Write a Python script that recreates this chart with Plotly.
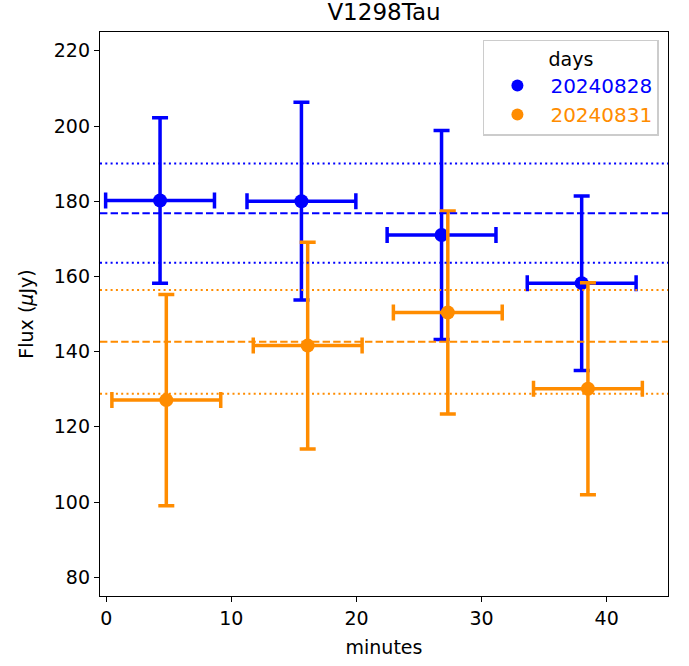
import plotly.graph_objects as go

# ---- data ----
days = ["20240828", "20240831"]
colors = ["#0000ff", "#ff8c00"]

minutes_0828 = [4.3, 15.6, 26.8, 38.0]
flux_0828 = [180.2, 180.0, 171.0, 158.2]
ferr_0828 = [22.0, 26.3, 27.8, 23.2]
merr_0828 = [4.35, 4.35, 4.35, 4.35]

minutes_0831 = [4.8, 16.1, 27.3, 38.5]
flux_0831 = [127.1, 141.6, 150.4, 130.1]
ferr_0831 = [28.1, 27.5, 27.0, 28.2]
merr_0831 = [4.35, 4.35, 4.35, 4.35]

mean_0828 = 176.8
std_0828 = 13.2
mean_0831 = 142.6
std_0831 = 13.8

x_ticks = [0, 10, 20, 30, 40]
y_ticks = [80, 100, 120, 140, 160, 180, 200, 220]

FONT = "DejaVu Sans"
W, H = 689, 666

fig = go.Figure()

series = [
    (days[0], colors[0], minutes_0828, flux_0828, ferr_0828, merr_0828),
    (days[1], colors[1], minutes_0831, flux_0831, ferr_0831, merr_0831),
]
for name, col, xs, ys, ye, xe in series:
    fig.add_trace(go.Scatter(
        x=xs, y=ys, mode="markers",
        name=f"<span style='color:{col}'>{name}</span>",
        marker=dict(color=col, size=14),
        error_y=dict(type="data", array=ye, color=col, thickness=3.5, width=8),
        error_x=dict(type="data", array=xe, color=col, thickness=3.5, width=8),
    ))

for col, m, s in [(colors[0], mean_0828, std_0828), (colors[1], mean_0831, std_0831)]:
    fig.add_hline(y=m, line=dict(color=col, width=2, dash="7.4px,3.2px"), layer="above")
    fig.add_hline(y=m + s, line=dict(color=col, width=2, dash="2px,3.3px"), layer="above")
    fig.add_hline(y=m - s, line=dict(color=col, width=2, dash="2px,3.3px"), layer="above")

axis_common = dict(
    showline=True, linecolor="black", linewidth=1.3, mirror=True,
    ticks="outside", ticklen=5, tickwidth=1.3, tickcolor="black",
    showgrid=False, zeroline=False,
    tickfont=dict(family=FONT, size=19, color="black"),
)

fig.update_layout(
    width=W, height=H,
    margin=dict(l=100, r=21, t=32, b=70),
    paper_bgcolor="white", plot_bgcolor="white",
    font=dict(family=FONT, size=19, color="black"),
    title=dict(text="V1298Tau", x=0.5573, xanchor="center", y=0.982, yanchor="middle",
               font=dict(family=FONT, size=23, color="black")),
    xaxis=dict(range=[-0.5, 44.9], tickvals=x_ticks,
               title=dict(text="minutes", font=dict(family=FONT, size=19), standoff=12),
               **axis_common),
    yaxis=dict(range=[75, 225], tickvals=y_ticks,
               title=dict(text="Flux (<i>μ</i>Jy)", font=dict(family=FONT, size=19), standoff=15),
               **axis_common),
    legend=dict(
        x=0.984, y=0.986, xanchor="right", yanchor="top",
        bgcolor="white", bordercolor="#cccccc", borderwidth=1.5,
        title=dict(text="days", side="top center", font=dict(family=FONT, size=19)),
        font=dict(family=FONT, size=20),
        itemsizing="constant",
        itemwidth=56,
    ),
    showlegend=True,
)

fig.write_html(
    "out.html",
    config={"displayModeBar": False},
    post_script="document.body.style.margin='0';document.body.style.padding='0';",
)
